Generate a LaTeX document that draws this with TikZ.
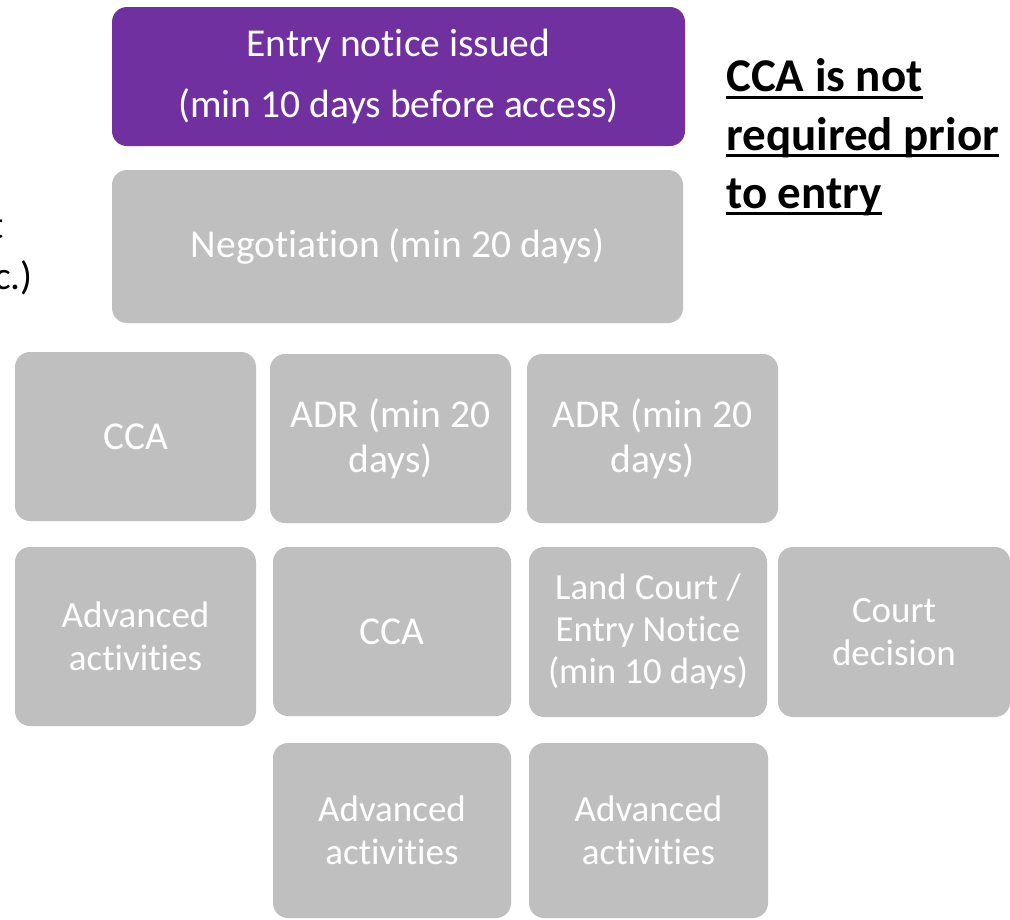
\documentclass[tikz,border=0pt]{standalone}
\usepackage{fontspec}
\setmainfont[Ligatures=NoCommon]{Carlito}
\definecolor{boxgray}{HTML}{BFBFBF}
\definecolor{boxpurple}{HTML}{7030A0}
\newcommand\ulline[1]{\setbox0\hbox{#1}\rlap{\rule[-7pt]{\wd0}{3pt}}\box0}
\begin{document}
\begin{tikzpicture}[x=1pt,y=-1pt,
  box/.style={rectangle, rounded corners=15pt, inner sep=0pt, fill=boxgray, text=white, align=center},
  fbig/.style={font=\fontsize{39.5}{45}\selectfont},
  fsmall/.style={font=\fontsize{37}{43}\selectfont},
  note/.style={inner sep=0pt, anchor=base west, font=\fontsize{47}{57}\bfseries\selectfont},
  cut/.style={inner sep=0pt, anchor=base east, font=\fontsize{39.5}{47}\selectfont}
]
\useasboundingbox (0,0) rectangle (1010,919);
\clip (0,0) rectangle (1010,919);
\fill[white] (0,0) rectangle (1010,919);

\node[box, fill=boxpurple, minimum width=573pt, minimum height=139pt, font=\fontsize{39.5}{61}\selectfont] (entry) at (398.5,76.5) {Entry notice issued\\(min 10 days before access)};
\node[box, fbig, minimum width=571pt, minimum height=153pt] (neg) at (397.5,246.5) {\raisebox{-2pt}{Negotiation (min 20 days)}};

\node[box, fbig, minimum width=241pt, minimum height=169pt] (cca1) at (135.5,436.5) {CCA};
\node[box, fbig, minimum width=241pt, minimum height=169pt] (adr1) at (390.5,438.5) {ADR (min 20\\days)};
\node[box, fbig, minimum width=251pt, minimum height=169pt] (adr2) at (652.5,438.5) {ADR (min 20\\days)};

\node[box, fsmall, minimum width=241pt, minimum height=179pt] (adv1) at (135.5,636.5) {Advanced\\activities};
\node[box, fbig, minimum width=238pt, minimum height=169pt] (cca2) at (392,631.5) {CCA};
\node[box, font=\fontsize{36.7}{42}\selectfont, minimum width=238pt, minimum height=170pt] (land) at (648,632) {Land Court /\\Entry Notice\\(min 10 days)};
\node[box, fsmall, minimum width=232pt, minimum height=170pt] (court) at (894,632) {Court\\decision};

\node[box, fsmall, minimum width=238pt, minimum height=175pt] (adv2) at (392,830.5) {Advanced\\activities};
\node[box, fsmall, minimum width=239pt, minimum height=175pt] (adv3) at (648.5,830.5) {Advanced\\activities};

\node[note] (n1) at (726,91.7) {\ulline{CCA is not}};
\node[note] (n2) at (726,150) {\ulline{required prior}};
\node[note] (n3) at (726,208) {\ulline{to entry}};

\node[cut] (c1) at (4,238) {t};
\node[cut] (c2) at (33,289) {c.)};
\end{tikzpicture}
\end{document}
